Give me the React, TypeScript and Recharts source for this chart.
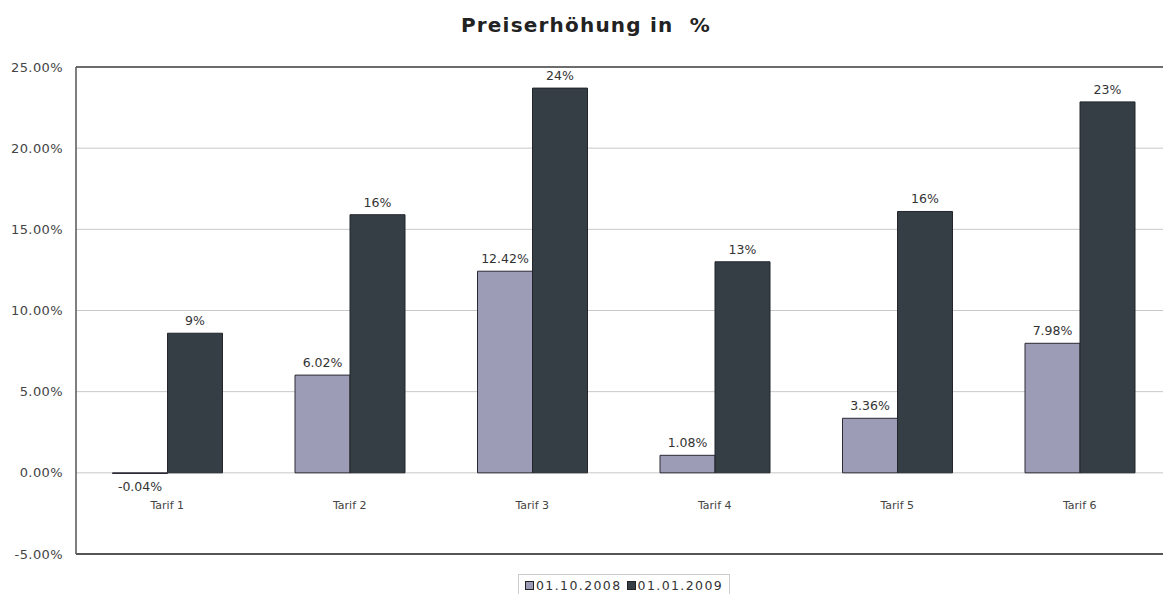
import { Bar, BarChart, XAxis, YAxis, CartesianGrid, LabelList, ReferenceLine } from "recharts";

const categories = ["Tarif 1", "Tarif 2", "Tarif 3", "Tarif 4", "Tarif 5", "Tarif 6"];
const series2008 = [-0.04, 6.02, 12.42, 1.08, 3.36, 7.98];
const series2009 = [8.6, 15.9, 23.7, 13.0, 16.1, 22.85];
const yTicks = [-5, 0, 5, 10, 15, 20, 25];
const seriesNames = ["01.10.2008", "01.01.2009"];

const FONT = "'DejaVu Sans', sans-serif";
const TOP = 67;
const HEIGHT = 594;
const X_AXIS_H = 40;
const PLOT_H = HEIGHT - TOP - X_AXIS_H;
const Y_MIN = -5;
const Y_MAX = 25;
const ZERO_Y = TOP + (Y_MAX / (Y_MAX - Y_MIN)) * PLOT_H;

const LIGHT = "#9c9cb6";
const DARK = "#353d45";

const chartData = categories.map((name, i) => ({
  name,
  a: series2008[i],
  b: series2009[i],
}));

function CategoryTick(props: any) {
  const { x, payload } = props;
  return (
    <text x={x} y={ZERO_Y + 36} textAnchor="middle" fontSize={11} fill="#444" fontFamily={FONT}>
      {payload.value}
    </text>
  );
}

function makeLabel(format: (v: number) => string) {
  return (props: any) => {
    const { x, y, width, height, value } = props;
    const top = Math.min(y, y + height);
    const bottom = Math.max(y, y + height);
    const neg = value < 0;
    return (
      <text
        x={x + width / 2}
        y={neg ? bottom + 18 : top - 8}
        textAnchor="middle"
        fontSize={12.5}
        fill="#333"
        fontFamily={FONT}
      >
        {format(value)}
      </text>
    );
  };
}

function App() {
  return (
    <div
      style={{
        position: "fixed",
        left: 0,
        top: 0,
        width: 1163,
        height: HEIGHT,
        overflow: "hidden",
        background: "#fff",
        fontFamily: FONT,
      }}
    >
      <div
        style={{
          position: "absolute",
          top: 13,
          left: 0,
          width: 1172,
          textAlign: "center",
          fontSize: 20,
          fontWeight: "bold",
          letterSpacing: 1.2,
          color: "#222",
        }}
      >
        Preiserhöhung in&nbsp; %
      </div>
      <BarChart
        width={1174}
        height={HEIGHT}
        data={chartData}
        margin={{ top: TOP, right: 3, bottom: 0, left: 0 }}
        barCategoryGap="20%"
        barGap={0}
      >
        <CartesianGrid vertical={false} stroke="#c8c8c8" />
        <XAxis
          dataKey="name"
          height={X_AXIS_H}
          axisLine={false}
          tickLine={false}
          tick={<CategoryTick />}
        />
        <YAxis
          width={76}
          domain={[Y_MIN, Y_MAX]}
          ticks={yTicks}
          tickFormatter={(v: number) => `${v.toFixed(2)}%`}
          tickLine={false}
          tickSize={0}
          tickMargin={13}
          axisLine={{ stroke: "#555", strokeWidth: 1.5 }}
          tick={{ fontSize: 13, fill: "#444", fontFamily: FONT, letterSpacing: 0.4 }}
        />
        <ReferenceLine y={Y_MAX} stroke="#444" strokeWidth={1.5} />
        <ReferenceLine y={Y_MIN} stroke="#555" strokeWidth={2} />
        <Bar dataKey="a" name={seriesNames[0]} fill={LIGHT} stroke="#2a2a35" strokeWidth={1} isAnimationActive={false}>
          <LabelList dataKey="a" content={makeLabel((v) => `${v.toFixed(2)}%`)} />
        </Bar>
        <Bar dataKey="b" name={seriesNames[1]} fill={DARK} stroke="#22262b" strokeWidth={1} isAnimationActive={false}>
          <LabelList dataKey="b" content={makeLabel((v) => `${Math.round(v)}%`)} />
        </Bar>
      </BarChart>
      <div
        style={{
          position: "absolute",
          left: 518,
          top: 574,
          height: 21,
          padding: "0 6px",
          border: "1px solid #ccc",
          display: "flex",
          alignItems: "center",
          fontSize: 12.5,
          letterSpacing: 1.4,
          color: "#333",
          whiteSpace: "nowrap",
        }}
      >
        {seriesNames.map((n, i) => (
          <span key={n} style={{ display: "flex", alignItems: "center", marginRight: i === 0 ? 5 : 0 }}>
            <span
              style={{
                display: "inline-block",
                width: 7,
                height: 7,
                background: i === 0 ? LIGHT : DARK,
                border: "1px solid #222",
                marginRight: 2,
              }}
            />
            {n}
          </span>
        ))}
      </div>
    </div>
  );
}

export default App;
